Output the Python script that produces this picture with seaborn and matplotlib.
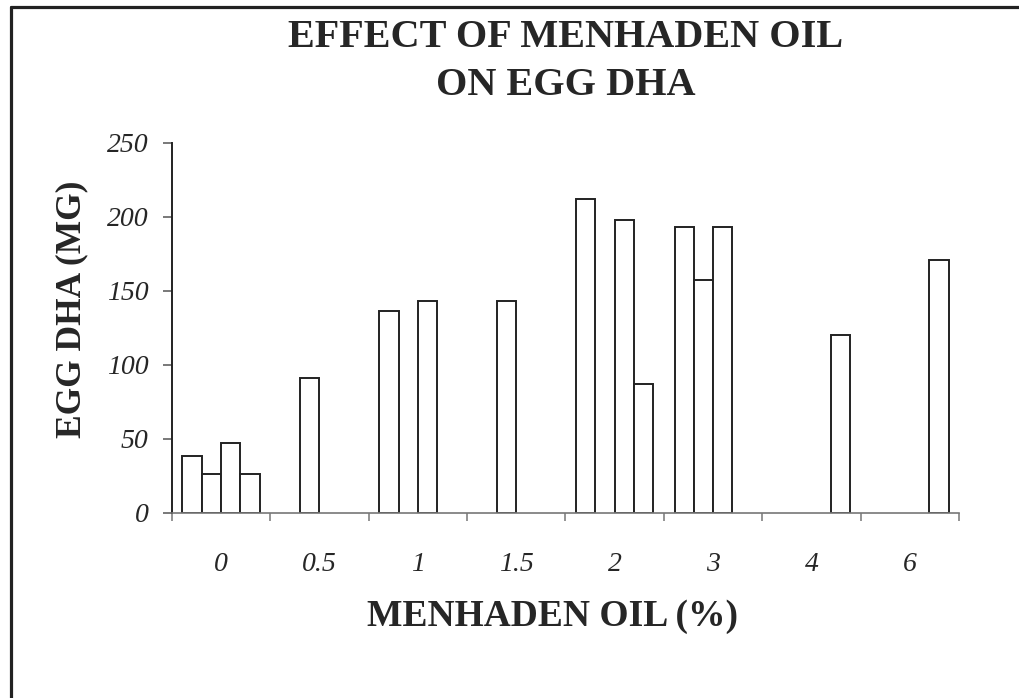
import numpy as np
import pandas as pd
import matplotlib
matplotlib.use("Agg")
import matplotlib.pyplot as plt
from matplotlib.lines import Line2D
import seaborn as sns

# Menhaden oil level in the diet (%), one group of replicate bars per level
doses = ["0", "0.5", "1", "1.5", "2", "3", "4", "6"]
replicates = ["R1", "R2", "R3", "R4"]

# Egg DHA (mg) for each replicate position; NaN where no bar is drawn
rep1 = [38, np.nan, 136, np.nan, 212, 193, np.nan, np.nan]
rep2 = [26, 91, np.nan, 143, np.nan, 157, np.nan, np.nan]
rep3 = [47, np.nan, 143, np.nan, 198, 193, np.nan, np.nan]
rep4 = [26, np.nan, np.nan, np.nan, 87, np.nan, 120, 171]

y_ticks = [0, 50, 100, 150, 200, 250]

title = "EFFECT OF MENHADEN OIL\nON EGG DHA"
x_label = "MENHADEN OIL (%)"
y_label = "EGG DHA (MG)"

rows = []
for rep, vals in zip(replicates, [rep1, rep2, rep3, rep4]):
    for d, v in zip(doses, vals):
        rows.append({"dose": d, "rep": rep, "dha": v})
df = pd.DataFrame(rows).dropna()

sns.set_style("white")
plt.rcParams["font.family"] = ["Liberation Serif", "DejaVu Serif"]

fig = plt.figure(figsize=(10.19, 6.98), dpi=100)
ax = fig.add_axes([0.1685, 0.2655, 0.7729, 0.5301])

sns.barplot(
    data=df, x="dose", y="dha", hue="rep",
    order=doses, hue_order=replicates,
    palette=["white"] * 4, saturation=1,
    edgecolor="#222222", linewidth=1.4,
    width=0.785, dodge=True, errorbar=None, legend=False, ax=ax,
)

ax.set_xlim(-0.5, len(doses) - 0.5)
ax.set_ylim(0, 250)
ax.set_yticks(y_ticks)
ax.set_yticklabels([str(t) for t in y_ticks], fontsize=20, fontstyle="italic")
ax.set_xticks(range(len(doses)))
ax.set_xticklabels(doses, fontsize=20, fontstyle="italic")
ax.set_xticks(np.arange(-0.5, len(doses), 1), minor=True)

ax.tick_params(axis="x", which="major", length=0, pad=28)
ax.tick_params(axis="x", which="minor", length=6, width=1.1,
               color="#777777", direction="out", bottom=True)
ax.tick_params(axis="y", which="major", length=6.5, width=1.1,
               color="#555555", direction="out", left=True, pad=10)

for side in ("top", "right"):
    ax.spines[side].set_visible(False)
ax.spines["left"].set_color("#222222")
ax.spines["left"].set_linewidth(1.4)
ax.spines["bottom"].set_color("#777777")
ax.spines["bottom"].set_linewidth(1.2)

ax.set_title(title, fontsize=29, fontweight="bold", pad=34.5, linespacing=1.38)
ax.set_xlabel(x_label, fontsize=27, fontweight="bold")
ax.set_ylabel(y_label, fontsize=25.5, fontweight="bold")
ax.xaxis.set_label_coords(0.484, -0.232)
ax.yaxis.set_label_coords(-0.106, 0.55)

# frame lines along the left and top edges of the figure
fig.add_artist(Line2D([10.5 / 1019, 10.5 / 1019], [0, 1 - 6.5 / 698],
                      transform=fig.transFigure, color="#222222", lw=2.3))
fig.add_artist(Line2D([10.5 / 1019, 1], [1 - 6.5 / 698, 1 - 6.5 / 698],
                      transform=fig.transFigure, color="#222222", lw=2.3))

fig.savefig("out.png", dpi=100)
